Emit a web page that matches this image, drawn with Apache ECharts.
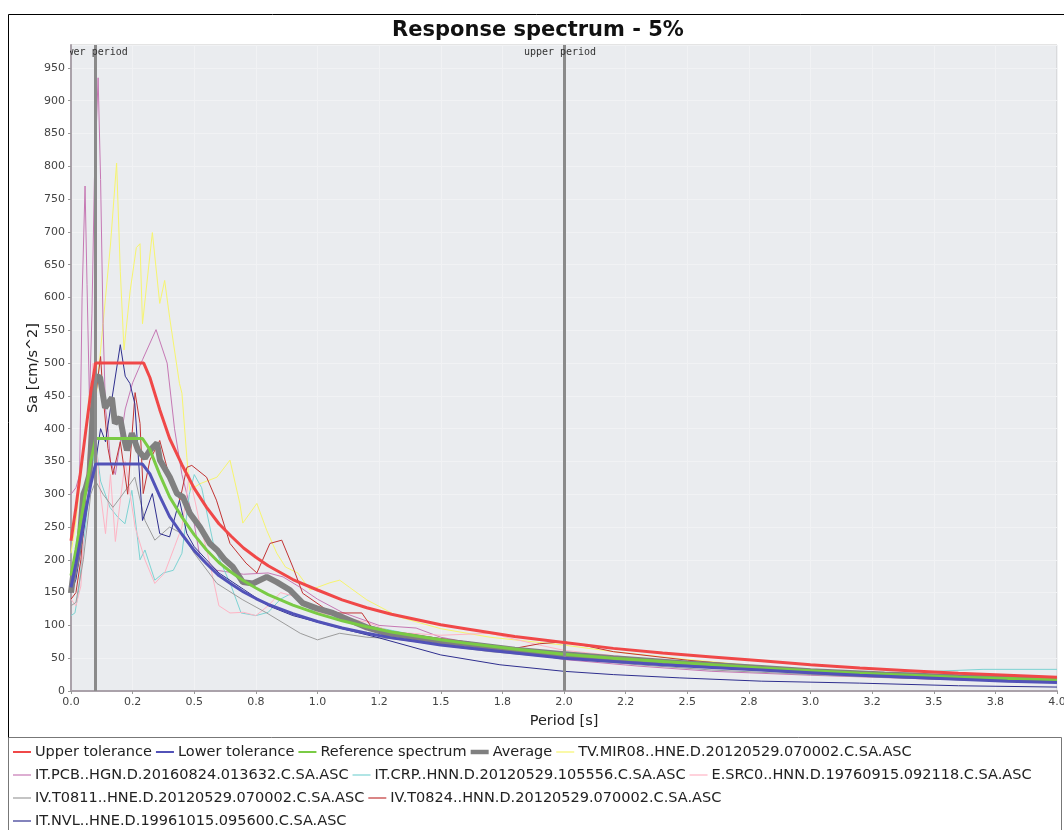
<!DOCTYPE html>
<html>
<head>
<meta charset="utf-8">
<script src="https://cdn.jsdelivr.net/npm/echarts@6/dist/echarts.min.js"></script>
<style>html,body{margin:0;padding:0;background:#fff;}#c{width:1064px;height:830px;}</style>
</head>
<body>
<div id="c"></div>
<script>
// ---- data (period [s], Sa [cm/s^2]) ----
const xTickLabels = ['0.0','0.2','0.5','0.8','1.0','1.2','1.5','1.8','2.0','2.2','2.5','2.8','3.0','3.2','3.5','3.8','4.0'];
const seriesNames = ['Upper tolerance','Lower tolerance','Reference spectrum','Average',
  'TV.MIR08..HNE.D.20120529.070002.C.SA.ASC','IT.PCB..HGN.D.20160824.013632.C.SA.ASC',
  'IT.CRP..HNN.D.20120529.105556.C.SA.ASC','E.SRC0..HNN.D.19760915.092118.C.SA.ASC',
  'IV.T0811..HNE.D.20120529.070002.C.SA.ASC','IV.T0824..HNN.D.20120529.070002.C.SA.ASC',
  'IT.NVL..HNE.D.19961015.095600.C.SA.ASC'];
const periodMarkers = [{name:'lower period', T:0.1},{name:'upper period', T:2.0}];

const upperTol = [[0,229],[0.02,280],[0.04,338],[0.06,397],[0.08,455],[0.1,500],[0.295,500],[0.32,478],[0.36,429],[0.4,385],[0.45,345],[0.5,309],[0.55,280],[0.6,255],[0.65,236],[0.7,218],[0.75,204],[0.8,191],[0.9,170],[1.0,154],[1.1,139],[1.2,127],[1.3,117],[1.4,109],[1.5,101],[1.6,95],[1.8,83],[2.0,74],[2.2,65],[2.4,58],[2.6,52],[2.8,46],[3.0,40],[3.2,35],[3.4,31],[3.6,27],[3.8,24],[4.0,21]];
const lowerTol = [[0,158],[0.02,194],[0.04,234],[0.06,275],[0.08,315],[0.1,346],[0.29,346],[0.32,331],[0.36,297],[0.4,266],[0.45,239],[0.5,214],[0.55,194],[0.6,176],[0.65,163],[0.7,151],[0.75,141],[0.8,132],[0.9,118],[1.0,106],[1.1,96],[1.2,88],[1.3,81],[1.4,76],[1.5,70],[1.6,66],[1.8,58],[2.0,50],[2.2,45],[2.4,40],[2.6,36],[2.8,32],[3.0,28],[3.2,24],[3.4,21],[3.6,18],[3.8,15],[4.0,13]];
const refSpectrum = [[0,176],[0.02,215],[0.04,260],[0.06,305],[0.08,350],[0.1,385],[0.29,385],[0.32,368],[0.36,330],[0.4,296],[0.45,265],[0.5,238],[0.55,215],[0.6,196],[0.65,181],[0.7,168],[0.75,157],[0.8,147],[0.9,131],[1.0,118],[1.1,107],[1.2,98],[1.3,90],[1.4,84],[1.5,78],[1.6,73],[1.8,64],[2.0,56],[2.2,50],[2.4,45],[2.6,40],[2.8,35],[3.0,31],[3.2,27],[3.4,24],[3.6,21],[3.8,19],[4.0,17]];
const average = [[0,150],[0.01,180],[0.02,195],[0.035,230],[0.05,300],[0.06,310],[0.075,330],[0.085,400],[0.095,470],[0.105,480],[0.118,478],[0.138,432],[0.166,447],[0.178,408],[0.199,417],[0.215,385],[0.227,367],[0.247,393],[0.272,367],[0.3,355],[0.32,367],[0.349,378],[0.361,352],[0.401,326],[0.43,301],[0.454,296],[0.482,271],[0.523,250],[0.563,225],[0.592,215],[0.624,200],[0.657,189],[0.697,166],[0.738,164],[0.794,174],[0.835,166],[0.888,154],[0.94,134],[0.997,126],[1.062,119],[1.131,108],[1.2,97],[1.281,88],[1.4,82],[1.5,76],[1.6,72],[1.8,63],[2.0,56],[2.2,50],[2.5,42],[2.8,35],[3.0,30],[3.3,25],[3.6,21],[4.0,17]];
const tvMir08 = [[0,210],[0.02,260],[0.04,330],[0.06,400],[0.08,470],[0.1,440],[0.12,520],[0.14,600],[0.16,680],[0.185,805],[0.2,640],[0.215,520],[0.24,610],[0.265,676],[0.28,682],[0.29,560],[0.33,699],[0.36,591],[0.38,626],[0.4,570],[0.44,469],[0.45,454],[0.47,356],[0.482,306],[0.523,316],[0.592,326],[0.645,352],[0.685,286],[0.697,256],[0.754,286],[0.794,245],[0.835,210],[0.87,189],[0.92,180],[0.97,154],[1.05,165],[1.09,169],[1.13,158],[1.2,139],[1.33,113],[1.5,95],[1.7,82],[2.0,70],[2.2,60],[2.5,48],[2.8,38],[3.0,33],[3.3,27],[3.6,23],[4.0,20]];
const itPcb = [[0,300],[0.02,310],[0.035,330],[0.045,600],[0.057,770],[0.065,620],[0.075,440],[0.085,575],[0.095,780],[0.11,935],[0.12,780],[0.13,560],[0.14,430],[0.15,400],[0.16,350],[0.18,330],[0.2,380],[0.22,430],[0.25,470],[0.29,505],[0.345,551],[0.39,500],[0.42,400],[0.45,330],[0.5,255],[0.523,204],[0.592,184],[0.7,178],[0.8,180],[0.86,174],[0.93,158],[1.0,140],[1.1,120],[1.25,100],[1.4,96],[1.5,82],[1.7,68],[2.0,48],[2.3,38],[2.6,30],[3.0,24],[3.5,18],[4.0,15]];
const itCrp = [[0,115],[0.016,119],[0.03,150],[0.05,220],[0.07,290],[0.09,350],[0.1,380],[0.12,320],[0.158,280],[0.19,265],[0.219,255],[0.247,306],[0.28,200],[0.3,215],[0.34,169],[0.375,180],[0.415,184],[0.45,210],[0.48,300],[0.5,330],[0.53,310],[0.58,220],[0.65,160],[0.69,119],[0.75,115],[0.8,120],[0.85,140],[0.9,150],[0.95,130],[1.0,118],[1.1,110],[1.2,100],[1.4,85],[1.6,70],[1.8,62],[2.0,60],[2.2,52],[2.5,42],[2.8,35],[3.0,30],[3.3,28],[3.5,30],[3.7,33],[4.0,33]];
const eSrc0 = [[0,140],[0.02,130],[0.04,160],[0.06,300],[0.08,420],[0.09,500],[0.1,380],[0.12,300],[0.14,240],[0.16,330],[0.18,228],[0.2,290],[0.22,350],[0.24,300],[0.26,250],[0.3,200],[0.34,164],[0.38,180],[0.42,220],[0.45,250],[0.48,330],[0.52,260],[0.56,200],[0.6,130],[0.645,119],[0.7,120],[0.75,115],[0.8,130],[0.85,150],[0.9,145],[1.0,120],[1.1,112],[1.2,105],[1.3,90],[1.5,85],[1.7,88],[1.9,70],[2.0,62],[2.3,50],[2.6,40],[3.0,30],[3.5,22],[4.0,18]];
const ivT0811 = [[0,130],[0.02,135],[0.05,200],[0.08,300],[0.1,320],[0.13,300],[0.17,280],[0.21,300],[0.259,326],[0.3,260],[0.34,230],[0.4,250],[0.45,240],[0.5,210],[0.592,164],[0.697,139],[0.794,119],[0.93,88],[1.0,78],[1.09,88],[1.2,82],[1.3,80],[1.5,70],[1.7,60],[2.0,50],[2.3,40],[2.6,32],[3.0,25],[3.5,18],[4.0,14]];
const ivT0824 = [[0,140],[0.02,150],[0.04,200],[0.06,300],[0.08,400],[0.1,450],[0.12,510],[0.13,450],[0.15,370],[0.17,330],[0.2,380],[0.23,300],[0.26,455],[0.28,408],[0.293,301],[0.32,352],[0.36,382],[0.39,340],[0.442,291],[0.47,341],[0.49,344],[0.55,326],[0.59,291],[0.645,225],[0.71,195],[0.754,180],[0.807,225],[0.855,230],[0.9,189],[0.94,149],[1.04,123],[1.09,119],[1.18,119],[1.22,97],[1.3,90],[1.5,80],[1.7,70],[1.8,65],[1.9,72],[2.0,75],[2.1,68],[2.2,60],[2.5,47],[2.8,37],[3.0,32],[3.5,24],[4.0,19]];
const itNvl = [[0,150],[0.02,170],[0.05,240],[0.08,320],[0.1,350],[0.12,400],[0.14,380],[0.165,443],[0.2,528],[0.22,480],[0.239,469],[0.259,438],[0.29,260],[0.33,301],[0.36,240],[0.4,235],[0.44,291],[0.47,240],[0.5,220],[0.55,200],[0.6,180],[0.7,155],[0.8,130],[0.9,115],[1.0,105],[1.1,95],[1.25,81],[1.5,55],[1.74,40],[2.0,30],[2.2,25],[2.47,20],[2.8,15],[3.2,12],[3.6,8],[4.0,6]];

// ---- styling ----
const FONT = 'DejaVu Sans';
const seriesData = [upperTol, lowerTol, refSpectrum, average, tvMir08, itPcb, itCrp, eSrc0, ivT0811, ivT0824, itNvl];
const seriesColors = ['#f04848','#5252b8','#7acb45','#808080','#f7f56e','#c678b4','#7dd3d3','#ffb4c4','#9c9c9c','#c23434','#2f2f8f'];
const seriesWidths = [3,3,3,6,1,1,1,1,1,1,1];
const legendIconH = [2,2,2,4.5,1.2,1.2,1.2,1.2,1.2,1.2,1.2];
const seriesZ = [6,5,4,3,2,2,2,2,2,2,2];

const series = seriesNames.map((n,i)=>({
  name:n, type:'line', data:seriesData[i], symbol:'none', showSymbol:false, smooth:false,
  z:seriesZ[i], lineStyle:{color:seriesColors[i], width:seriesWidths[i]}, itemStyle:{color:seriesColors[i]},
  emphasis:{disabled:true}, silent:true
}));
series.push({
  name:'periods', type:'line', data:[], symbol:'none', z:7, silent:true,
  markLine:{
    silent:true, symbol:['none','none'], animation:false,
    lineStyle:{color:'#8a8a8a', width:3, type:'solid'},
    label:{show:true, position:'end', formatter:p=>p.name, fontFamily:'DejaVu Sans Mono', fontSize:10, color:'#333', distance:-12, padding:[0,8,0,0]},
    data: periodMarkers.map(m=>({name:m.name, xAxis:m.T}))
  }
});

const legendItem = n => {
  const i = seriesNames.indexOf(n);
  return {name:n, icon:'path://M0,0H18V'+legendIconH[i]+'H0Z', itemStyle:{color:seriesColors[i]}};
};
const legendRows = [seriesNames.slice(0,5), seriesNames.slice(5,8), seriesNames.slice(8,10), seriesNames.slice(10,11)];
const legendTops = [744, 767, 790, 813];
const legends = legendRows.map((row,i)=>({
  data:row.map(legendItem), left:13, top:legendTops[i], orient:'horizontal', padding:0,
  itemWidth:18, itemHeight:12, itemGap:4, selectedMode:false, symbolKeepAspect:true,
  textStyle:{fontFamily:FONT, fontSize:14.5, color:'#222', lineHeight:16, padding:[0,0,0,-1]}
}));

const chart = echarts.init(document.getElementById('c'), null, {renderer:'canvas'});
chart.setOption({
  animation:false,
  backgroundColor:'#ffffff',
  title:{text:'Response spectrum - 5%', left:533, top:15, textAlign:'center',
    textStyle:{fontFamily:FONT, fontSize:21, fontWeight:'bold', color:'#111'}},
  legend:legends,
  grid:{left:71, right:7, top:45, bottom:139, show:true, backgroundColor:'#eaecef', borderColor:'#c8c8c8', borderWidth:1, containLabel:false, outerBoundsMode:'none'},
  xAxis:{type:'value', min:0, max:4, interval:0.25,
    name:'Period [s]', nameLocation:'middle', nameGap:23,
    nameTextStyle:{fontFamily:FONT, fontSize:14.5, color:'#222'},
    axisLine:{show:true, onZero:false, lineStyle:{color:'#aaa2aa', width:2}},
    axisTick:{show:true, length:3, lineStyle:{color:'#999'}},
    axisLabel:{fontFamily:FONT, fontSize:11, color:'#444', margin:6, formatter:v=>xTickLabels[Math.round(v/0.25)]},
    splitLine:{show:true, lineStyle:{color:'#f1f2f4', width:1}}},
  yAxis:{type:'value', min:0, max:985, interval:50,
    name:'Sa [cm/s^2]', nameLocation:'middle', nameGap:30, nameMoveOverlap:false,
    nameTextStyle:{fontFamily:FONT, fontSize:14.5, color:'#222'},
    axisLine:{show:true, lineStyle:{color:'#aaa2aa', width:2}},
    axisTick:{show:true, length:3, lineStyle:{color:'#999'}},
    axisLabel:{fontFamily:FONT, fontSize:11, color:'#444', margin:6, showMaxLabel:false},
    splitLine:{show:true, lineStyle:{color:'#f1f2f4', width:1}}},
  series:series,
  graphic:[
    {type:'rect', z:100, silent:true, shape:{x:9, y:44, width:61, height:13}, style:{fill:'#ffffff'}},
    {type:'rect', z:100, silent:true, shape:{x:8.5, y:14.5, width:1070, height:830}, style:{fill:'none', stroke:'#000', lineWidth:1}},
    {type:'rect', z:100, silent:true, shape:{x:8.5, y:737.5, width:1053, height:110}, style:{fill:'none', stroke:'#777', lineWidth:1}}
  ]
});
</script>
</body>
</html>
